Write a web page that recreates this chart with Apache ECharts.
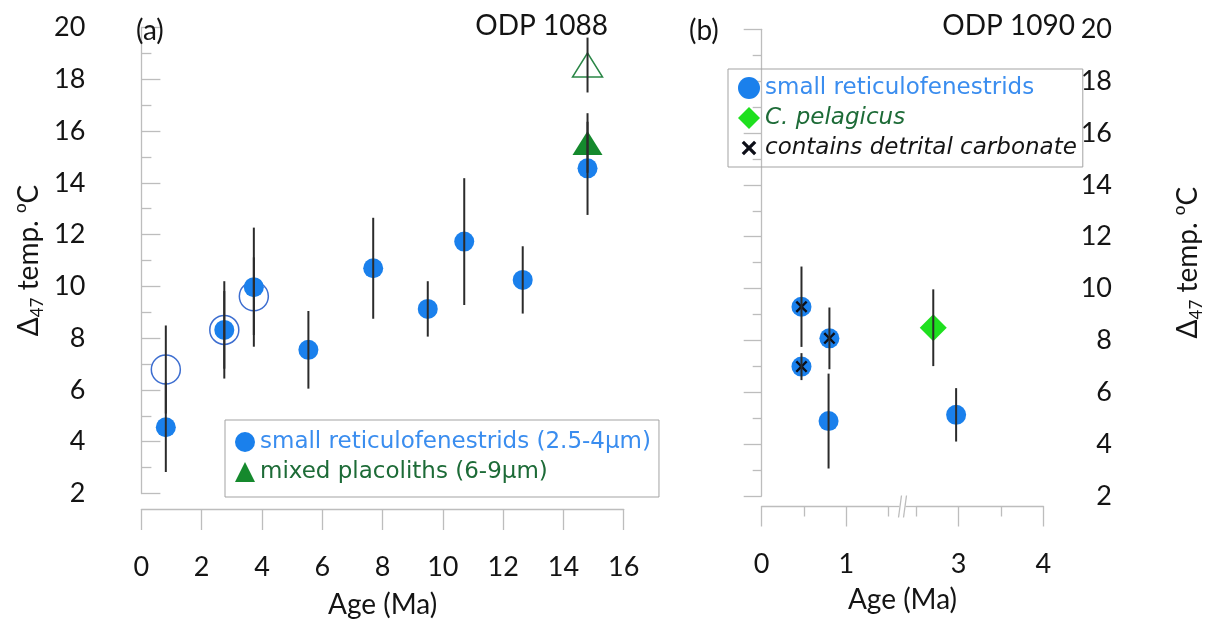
<!DOCTYPE html>
<html>
<head>
<meta charset="utf-8">
<script src="https://cdn.jsdelivr.net/npm/echarts@6.0.0/dist/echarts.min.js"></script>
<style>
  html, body { margin: 0; padding: 0; background: #fff; }
  #chart { width: 1206px; height: 623px; }
</style>
</head>
<body>
<div id="chart"></div>
<script>
// ---- ODP 1088 (panel a) ----
const ageSmallA  = [0.81, 2.75, 3.73, 5.54, 7.69, 9.50, 10.71, 12.65, 14.80];
const tempSmallA = [4.56, 8.32, 9.97, 7.55, 10.70, 9.13, 11.73, 10.25, 14.56];
const errSmallA  = [1.73, 1.88, 2.30, 1.50, 1.95, 1.07, 2.45, 1.30, 1.80];

const ageOpenA  = [0.81, 2.75, 3.73];
const tempOpenA = [6.79, 8.32, 9.62];
const errOpenA  = [1.70, 1.50, 1.50];

const ageMixed  = [14.80];
const tempMixed = [15.54];
const errMixed  = [1.15];

const ageMixedOpen  = [14.80];
const tempMixedOpen = [18.55];
const errMixedOpen  = [1.06];

// ---- ODP 1090 (panel b) ----
const ageSmallB  = [0.47, 0.47, 0.80, 0.79, 2.97];
const tempSmallB = [9.30, 6.99, 8.08, 4.89, 5.13];
const errSmallB  = [1.55, 0.52, 1.19, 1.83, 1.03];
const detritalB  = [true, true, true, false, false];

const agePelag  = [2.70];
const tempPelag = [8.49];
const errPelag  = [1.48];

// axis ranges and tick values
const tempRange = [2, 20, 2];      // min, max, interval
const ageRangeA = [0, 16, 2];
const ageRangeB = [0, 4];
const ageBreakB = [1.5, 2.5];
const ageMajorTicksB = [0, 1, 3, 4];
const ageMinorTicksB = [0.5, 1.5, 2.5, 3.5];

const NAME_SR_A = 'small reticulofenestrids (2.5-4\u03bcm)';
const NAME_MP_A = 'mixed placoliths (6-9\u03bcm)';
const NAME_SR_B = 'small reticulofenestrids';
const NAME_CP_B = 'C. pelagicus';
const NAME_DC_B = 'contains detrital carbonate';

const BLUE = '#1a80ec';
const GREEN = '#15892d';
const AXIS_GRAY = '#bdbdbd';
const TEXT = '#141414';
const CALIBRI_LIKE = 'Lato, "Open Sans", sans-serif';
const LEGEND_FONT = '"DejaVu Sans", sans-serif';

const pts = (xs, ys) => xs.map((x, i) => [x, ys[i]]);

function errorBars(xIdx, yIdx, xs, ys, es) {
  return {
    type: 'custom',
    xAxisIndex: xIdx,
    yAxisIndex: yIdx,
    silent: true,
    z: 6,
    data: xs.map((x, i) => [x, ys[i] - es[i], ys[i] + es[i]]),
    encode: { x: 0, y: [1, 2] },
    renderItem: (params, api) => {
      const lo = api.coord([api.value(0), api.value(1)]);
      const hi = api.coord([api.value(0), api.value(2)]);
      return {
        type: 'line',
        shape: { x1: lo[0], y1: lo[1], x2: hi[0], y2: hi[1] },
        style: { stroke: '#2b2b2b', lineWidth: 2 }
      };
    }
  };
}

const axisLineStyle = { color: AXIS_GRAY, width: 1.3 };
const tempName = '\u0394{sub|47} temp. {sup|o}C';
const nameRich = {
  sub: { fontSize: 17, lineHeight: 34, verticalAlign: 'bottom', fontFamily: CALIBRI_LIKE, color: TEXT },
  sup: { fontSize: 17, lineHeight: 34, verticalAlign: 'top', fontFamily: CALIBRI_LIKE, color: TEXT }
};

function tempAxis(gridIndex, position, offset, extra) {
  return Object.assign({
    type: 'value',
    gridIndex,
    position,
    offset,
    min: tempRange[0], max: tempRange[1], interval: tempRange[2],
    axisLine: { show: true, lineStyle: axisLineStyle },
    axisTick: { show: true, inside: true, length: 19, lineStyle: axisLineStyle },
    minorTick: { show: true, splitNumber: 2, length: 10, lineStyle: axisLineStyle },
    splitLine: { show: false },
    name: tempName,
    nameLocation: 'middle',
    nameRotate: 90,
    nameTextStyle: { fontFamily: CALIBRI_LIKE, fontSize: 28, color: TEXT, rich: nameRich }
  }, extra);
}

// cross marker; the legend variant carries invisible corner specks so it draws smaller in its box
const DETRITAL_X = 'path://M0,1.7L1.7,0L6,4.3L10.3,0L12,1.7L7.7,6L12,10.3L10.3,12L6,7.7L1.7,12L0,10.3L4.3,6Z';
const DETRITAL_X_LEGEND = 'path://M-3,-3L-2.99,-3L-3,-2.99Z M0,1.9L1.9,0L6,4.1L10.1,0L12,1.9L7.9,6L12,10.1L10.1,12L6,7.9L1.9,12L0,10.1L4.1,6Z M15,15L14.99,15L15,14.99Z';

const titleStyle = { fontFamily: CALIBRI_LIKE, fontSize: 28, fontWeight: 'normal', color: TEXT };
const legendText = (color, italic) => ({
  color, fontFamily: LEGEND_FONT, fontSize: 23, fontStyle: italic ? 'italic' : 'normal'
});

const option = {
  animation: false,
  backgroundColor: '#ffffff',
  textStyle: { fontFamily: CALIBRI_LIKE },
  title: [
    { text: '(a)', left: 136, top: 17, padding: 0, textStyle: titleStyle },
    { text: 'ODP 1088', right: 598, top: 12, padding: 0, textStyle: titleStyle },
    { text: '(b)', left: 689, top: 17, padding: 0, textStyle: titleStyle },
    { text: 'ODP 1090', right: 131, top: 12, padding: 0, textStyle: titleStyle }
  ],
  grid: [
    { left: 141.4, right: 582.3, top: 27.5, bottom: 129.5, outerBoundsMode: 'none' },
    { left: 761.7, right: 162.7, top: 29.3, bottom: 127, outerBoundsMode: 'none' }
  ],
  legend: [
    {
      left: 225, top: 420,
      orient: 'vertical',
      selectedMode: false,
      itemWidth: 20, itemHeight: 20, itemGap: 4,
      padding: [9, 8, 12, 10],
      borderColor: '#a3a3a3', borderWidth: 1,
      textStyle: { fontFamily: LEGEND_FONT, fontSize: 23, lineHeight: 26 },
      data: [
        { name: NAME_SR_A, icon: 'circle', textStyle: legendText('#3a8def', false) },
        { name: NAME_MP_A, icon: 'triangle', textStyle: legendText('#1d6b37', false) }
      ]
    },
    {
      left: 728, top: 69,
      orient: 'vertical',
      selectedMode: false,
      itemWidth: 22, itemHeight: 22, itemGap: 4,
      padding: [6, 6, 6, 10],
      borderColor: '#a3a3a3', borderWidth: 1,
      textStyle: { fontFamily: LEGEND_FONT, fontSize: 23, lineHeight: 26 },
      data: [
        { name: NAME_SR_B, icon: 'circle', textStyle: legendText('#3a8def', false) },
        { name: NAME_CP_B, icon: 'diamond', textStyle: legendText('#1d6b37', true) },
        { name: NAME_DC_B, icon: DETRITAL_X_LEGEND, textStyle: legendText(TEXT, true) }
      ]
    }
  ],
  xAxis: [
    {
      type: 'value', gridIndex: 0, position: 'bottom', offset: 15.5,
      min: ageRangeA[0], max: ageRangeA[1], interval: ageRangeA[2],
      axisLine: { show: true, onZero: false, lineStyle: axisLineStyle },
      axisTick: { show: true, length: 21, lineStyle: axisLineStyle },
      splitLine: { show: false },
      axisLabel: { margin: 45, fontFamily: CALIBRI_LIKE, fontSize: 27, color: TEXT },
      name: 'Age (Ma)', nameLocation: 'middle', nameGap: 82,
      nameTextStyle: { fontFamily: CALIBRI_LIKE, fontSize: 28, color: TEXT }
    },
    {
      // panel (b) age axis with a break between 1.5 and 2.5 Ma
      type: 'value', gridIndex: 1, position: 'bottom', offset: 10.5,
      min: ageRangeB[0], max: ageRangeB[1],
      breaks: [{ start: ageBreakB[0], end: ageBreakB[1], gap: 0.327 }],
      breakArea: { show: false },
      axisLine: { show: true, onZero: false, lineStyle: axisLineStyle },
      axisTick: { show: true, length: 20, lineStyle: axisLineStyle, customValues: ageMajorTicksB },
      minorTick: { show: false },
      splitLine: { show: false },
      axisLabel: { margin: 44, fontFamily: CALIBRI_LIKE, fontSize: 27, color: TEXT, customValues: ageMajorTicksB },
      name: 'Age (Ma)', nameLocation: 'middle', nameGap: 79,
      nameTextStyle: { fontFamily: CALIBRI_LIKE, fontSize: 28, color: TEXT }
    },
    {
      // short ticks of the panel (b) age axis
      type: 'value', gridIndex: 1, position: 'bottom', offset: 10.5,
      min: ageRangeB[0], max: ageRangeB[1],
      breaks: [{ start: ageBreakB[0], end: ageBreakB[1], gap: 0.327 }],
      breakArea: { show: false },
      axisLine: { show: false },
      axisTick: { show: true, length: 10, lineStyle: axisLineStyle, customValues: ageMinorTicksB },
      axisLabel: { show: false },
      splitLine: { show: false }
    }
  ],
  yAxis: [
    tempAxis(0, 'left', 33, {
      axisLabel: { margin: 23, fontFamily: CALIBRI_LIKE, fontSize: 27, color: TEXT },
      nameGap: 62
    }),
    tempAxis(1, 'right', 111.7, {
      axisTick: { show: true, inside: true, length: 18, lineStyle: axisLineStyle },
      minorTick: { show: true, splitNumber: 2, length: 9, lineStyle: axisLineStyle },
      axisLabel: { inside: true, margin: 43, fontFamily: CALIBRI_LIKE, fontSize: 27, color: TEXT },
      nameGap: 16
    })
  ],
  series: [
    // panel a
    {
      name: 'reticulofenestrids (open)', type: 'scatter', xAxisIndex: 0, yAxisIndex: 0, z: 1, silent: true,
      symbol: 'circle', symbolSize: 29,
      itemStyle: { color: 'rgba(0,0,0,0)', borderColor: '#3d6ed0', borderWidth: 1.5, opacity: 1 },
      data: pts(ageOpenA, tempOpenA)
    },
    {
      name: NAME_SR_A, type: 'scatter', xAxisIndex: 0, yAxisIndex: 0, z: 2, silent: true,
      symbol: 'circle', symbolSize: 20, itemStyle: { color: BLUE, opacity: 1 },
      data: pts(ageSmallA, tempSmallA)
    },
    {
      name: NAME_MP_A, type: 'scatter', xAxisIndex: 0, yAxisIndex: 0, z: 3, silent: true,
      symbol: 'triangle', symbolSize: [30, 24], itemStyle: { color: GREEN, opacity: 1 },
      data: pts(ageMixed, tempMixed)
    },
    {
      name: 'mixed placoliths (open)', type: 'scatter', xAxisIndex: 0, yAxisIndex: 0, z: 3, silent: true,
      symbol: 'triangle', symbolSize: [30, 24],
      itemStyle: { color: 'rgba(0,0,0,0)', borderColor: '#2a8646', borderWidth: 1.5, opacity: 1 },
      data: pts(ageMixedOpen, tempMixedOpen)
    },
    errorBars(0, 0,
      [].concat(ageSmallA, ageOpenA, ageMixed, ageMixedOpen),
      [].concat(tempSmallA, tempOpenA, tempMixed, tempMixedOpen),
      [].concat(errSmallA, errOpenA, errMixed, errMixedOpen)),
    // panel b
    {
      name: NAME_SR_B, type: 'scatter', xAxisIndex: 1, yAxisIndex: 1, z: 2, silent: true,
      symbol: 'circle', symbolSize: 20, itemStyle: { color: BLUE, opacity: 1 },
      data: pts(ageSmallB, tempSmallB)
    },
    {
      name: NAME_CP_B, type: 'scatter', xAxisIndex: 1, yAxisIndex: 1, z: 2, silent: true,
      symbol: 'diamond', symbolSize: 27, itemStyle: { color: '#1fe01f', opacity: 1 },
      data: pts(agePelag, tempPelag)
    },
    {
      name: NAME_DC_B, type: 'scatter', xAxisIndex: 1, yAxisIndex: 1, z: 4, silent: true,
      symbol: DETRITAL_X, symbolSize: 12, itemStyle: { color: '#0d0f18', opacity: 1 },
      data: pts(ageSmallB, tempSmallB).filter((p, i) => detritalB[i])
    },
    errorBars(1, 1,
      [].concat(ageSmallB, agePelag),
      [].concat(tempSmallB, tempPelag),
      [].concat(errSmallB, errPelag))
  ]
};

const chart = echarts.init(document.getElementById('chart'), null, { renderer: 'canvas' });
chart.setOption(option);

// axis line across the break, with a "//" mark in its middle
const x0 = chart.convertToPixel({ xAxisIndex: 1 }, ageBreakB[0]);
const x1 = chart.convertToPixel({ xAxisIndex: 1 }, ageBreakB[1]);
const bx = (x0 + x1) / 2;
const by = chart.convertToPixel({ yAxisIndex: 1 }, tempRange[0]) + 10.5;
chart.setOption({
  graphic: [
    { type: 'line', shape: { x1: x0, y1: by, x2: x1, y2: by }, style: { stroke: AXIS_GRAY, lineWidth: 1.3 }, z: 10, silent: true },
    { type: 'rect', shape: { x: bx - 3, y: by - 3, width: 6, height: 6 }, style: { fill: '#fff' }, z: 11, silent: true },
    { type: 'line', shape: { x1: bx - 4, y1: by + 11, x2: bx - 1, y2: by - 11 }, style: { stroke: AXIS_GRAY, lineWidth: 1.3 }, z: 12, silent: true },
    { type: 'line', shape: { x1: bx + 1, y1: by + 11, x2: bx + 4, y2: by - 11 }, style: { stroke: AXIS_GRAY, lineWidth: 1.3 }, z: 12, silent: true }
  ]
});
</script>
</body>
</html>
